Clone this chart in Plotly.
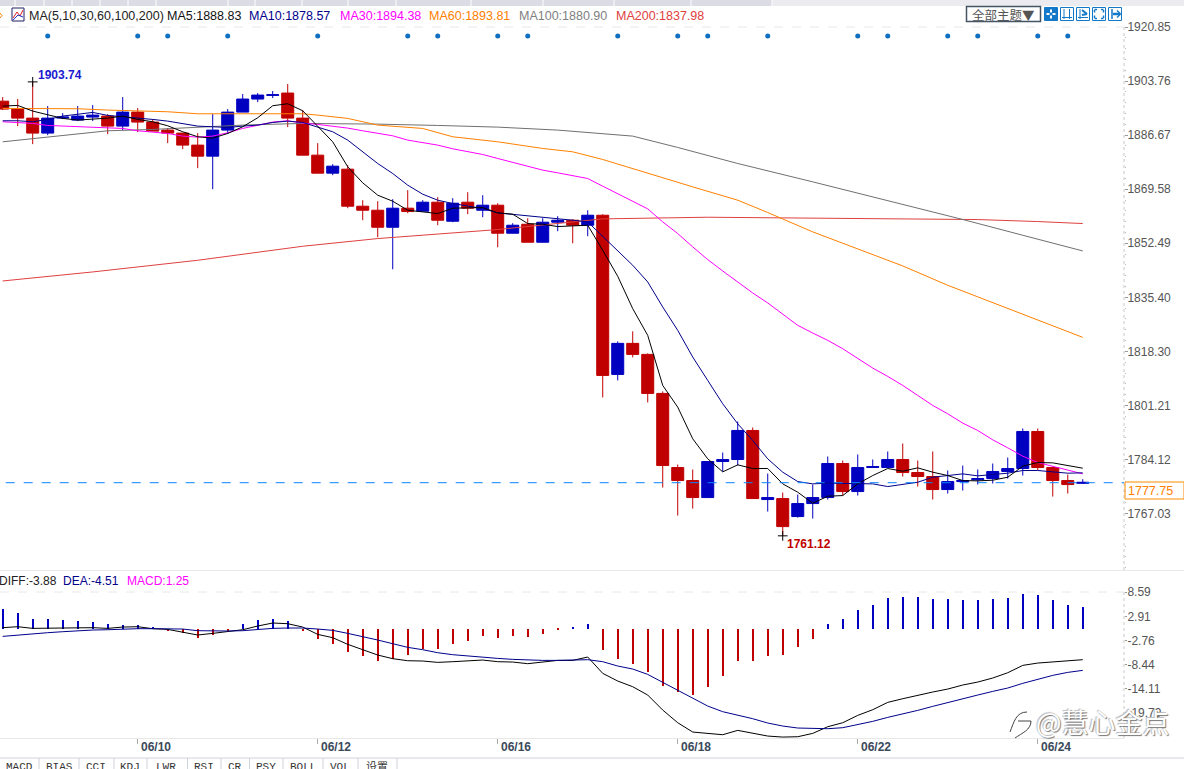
import plotly.graph_objects as go

W = 1184
H = 769

# candle values, oldest first
opens = [1897.4, 1894.9, 1892.05, 1887.31, 1892.05, 1891.42, 1892.37, 1892.69, 1889.52, 1893.95,
         1890.79, 1888.26, 1887.31, 1883.51, 1880.03, 1888.26, 1893.95, 1898.07, 1899.23, 1899.97,
         1892.05, 1880.34, 1874.65, 1875.91, 1864.2, 1862.93, 1857.55, 1863.57, 1862.62, 1865.47,
         1859.45, 1865.47, 1862.93, 1864.52, 1855.66, 1858.5, 1852.81, 1859.14, 1859.77, 1858.19,
         1861.35, 1811.03, 1820.84, 1817.36, 1805.02, 1781.59, 1777.48, 1772.1, 1783.49, 1784.12,
         1793.31, 1771.47, 1771.78, 1766.09, 1770.2, 1772.1, 1782.86, 1774.0, 1781.59, 1781.59,
         1784.12, 1780.01, 1778.75, 1774.63, 1777.16, 1777.69, 1778.11, 1780.33, 1781.28, 1792.99,
         1781.59, 1777.48, 1776.6]
highs = [1898.7, 1898.07, 1903.5, 1895.85, 1893.63, 1895.85, 1896.17, 1893.32, 1898.7, 1895.22,
         1891.74, 1888.89, 1887.31, 1887.31, 1893.32, 1894.9, 1899.65, 1899.97, 1900.6, 1902.81,
         1894.58, 1884.14, 1877.49, 1877.18, 1866.1, 1865.78, 1866.42, 1869.27, 1866.1, 1867.05,
         1866.73, 1868.63, 1867.68, 1865.15, 1858.82, 1860.4, 1860.4, 1861.04, 1860.09, 1862.93,
         1861.67, 1821.47, 1824.64, 1817.68, 1805.65, 1782.54, 1780.96, 1783.49, 1786.34, 1796.15,
         1794.26, 1779.7, 1773.68, 1773.05, 1776.21, 1785.08, 1783.81, 1785.71, 1784.12, 1786.66,
         1789.19, 1783.81, 1786.66, 1780.65, 1782.22, 1780.96, 1782.86, 1784.76, 1793.94, 1793.94,
         1781.91, 1779.38, 1777.9]
lows = [1894.6, 1889.52, 1883.82, 1886.67, 1891.74, 1891.1, 1891.1, 1886.99, 1888.26, 1887.62,
        1887.94, 1884.14, 1882.24, 1876.23, 1869.58, 1886.99, 1893.95, 1897.12, 1898.38, 1889.2,
        1880.34, 1874.65, 1874.01, 1863.57, 1859.77, 1854.39, 1844.26, 1861.99, 1862.62, 1858.19,
        1859.14, 1861.67, 1860.72, 1851.22, 1855.66, 1852.81, 1852.81, 1856.29, 1852.49, 1854.71,
        1803.75, 1809.13, 1816.41, 1802.17, 1775.26, 1766.4, 1768.62, 1772.1, 1780.33, 1782.22,
        1771.78, 1767.67, 1760.0, 1765.77, 1765.45, 1771.47, 1772.73, 1772.73, 1781.59, 1781.59,
        1778.75, 1775.58, 1771.47, 1773.37, 1774.32, 1776.21, 1776.53, 1778.11, 1779.06, 1780.65,
        1772.42, 1773.37, 1776.4]
closes = [1894.9, 1892.05, 1887.31, 1892.05, 1892.37, 1892.69, 1893.0, 1889.52, 1893.95, 1890.79,
          1887.94, 1887.31, 1883.51, 1880.03, 1888.26, 1893.95, 1898.07, 1899.33, 1899.44, 1892.05,
          1880.34, 1874.65, 1876.86, 1864.2, 1862.93, 1857.55, 1863.57, 1862.51, 1865.47, 1859.77,
          1865.15, 1863.57, 1864.52, 1855.66, 1858.19, 1852.81, 1859.14, 1859.77, 1858.19, 1861.35,
          1810.71, 1820.84, 1817.36, 1805.02, 1782.22, 1777.48, 1772.1, 1783.49, 1784.12, 1793.31,
          1771.78, 1772.1, 1762.92, 1770.2, 1772.1, 1782.86, 1774.0, 1781.59, 1781.91, 1784.12,
          1780.01, 1778.75, 1774.63, 1777.16, 1777.48, 1778.11, 1780.33, 1781.28, 1792.99, 1781.59,
          1777.48, 1776.21, 1776.9]

ma5 = [1895.85, 1896.06, 1894.27, 1893.0, 1891.95, 1891.42, 1891.74, 1892.05, 1892.69, 1891.63,
       1890.89, 1889.63, 1887.73, 1886.15, 1885.72, 1887.2, 1889.31, 1892.16, 1895.96, 1896.59,
       1894.37, 1889.31, 1884.56, 1876.65, 1871.59, 1867.68, 1865.78, 1862.93, 1862.51, 1861.88,
       1863.57, 1863.57, 1863.78, 1862.09, 1861.67, 1858.71, 1858.5, 1857.77, 1857.87, 1858.19,
       1850.28, 1842.05, 1831.81, 1823.37, 1807.55, 1800.69, 1790.67, 1784.34, 1780.22, 1782.44,
       1781.28, 1781.28, 1776.43, 1773.79, 1770.31, 1772.52, 1772.73, 1776.43, 1779.06, 1781.28,
       1780.43, 1781.49, 1780.12, 1779.06, 1777.48, 1777.37, 1777.59, 1778.53, 1782.02, 1783.18,
       1783.07, 1782.22, 1781.38]
ma10 = [1891.21, 1891.21, 1890.89, 1891.63, 1892.69, 1893.32, 1893.85, 1892.9, 1892.48, 1892.26,
        1891.63, 1891.1, 1890.37, 1889.52, 1889.31, 1889.1, 1889.52, 1889.84, 1890.68, 1891.1,
        1890.68, 1889.1, 1887.73, 1885.09, 1881.4, 1877.7, 1874.54, 1870.85, 1868.0, 1866.1,
        1865.05, 1864.2, 1863.46, 1862.09, 1861.67, 1861.04, 1860.61, 1860.3, 1859.77, 1859.24,
        1854.71, 1850.28, 1845.53, 1840.25, 1832.34, 1824.96, 1816.52, 1809.13, 1801.75, 1795.42,
        1790.14, 1784.34, 1780.12, 1777.16, 1776.43, 1776.64, 1776.64, 1776.64, 1776.43, 1775.58,
        1776.21, 1776.95, 1778.53, 1778.96, 1779.59, 1778.96, 1779.48, 1779.8, 1780.65, 1780.65,
        1780.22, 1779.8, 1779.91]
ma30 = [1890.89, 1890.68, 1890.37, 1889.73, 1889.52, 1889.52, 1889.31, 1889.0, 1888.78, 1888.04,
        1887.62, 1887.2, 1886.36, 1886.04, 1886.36, 1887.41, 1888.78, 1889.73, 1890.79, 1891.21,
        1890.47, 1890.05, 1889.52, 1888.89, 1888.04, 1887.31, 1886.46, 1885.09, 1884.25, 1883.51,
        1882.35, 1881.4, 1880.55, 1879.29, 1878.02, 1876.86, 1875.6, 1874.75, 1873.91, 1872.96,
        1870.53, 1868.21, 1865.68, 1863.36, 1859.24, 1855.55, 1851.33, 1847.32, 1843.73, 1840.25,
        1836.77, 1833.61, 1830.02, 1826.54, 1824.11, 1821.79, 1819.15, 1815.99, 1813.03, 1810.4,
        1807.55, 1804.38, 1801.22, 1798.58, 1795.63, 1793.31, 1790.35, 1787.82, 1785.18, 1783.18,
        1781.91, 1780.75, 1779.59]

# the slow averages are smooth, so these are read at fewer candles
ma60_idx = [0, 5, 7, 9, 11, 13, 20, 21, 23, 25, 28, 30, 33, 36, 38, 40, 43, 46, 49, 51, 54, 57, 60, 63, 66, 69, 72]
ma60 = [1895.11, 1895.01, 1894.59, 1894.27, 1894.06, 1893.42, 1893.42, 1893.0, 1891.95, 1889.84,
        1888.78, 1886.15, 1884.56, 1882.45, 1881.4, 1878.97, 1874.54, 1870.32, 1866.1, 1862.2,
        1856.08, 1850.8, 1845.32, 1839.2, 1833.71, 1828.12, 1822.74]
ma100_idx = [0, 2, 5, 7, 10, 13, 16, 20, 25, 29, 33, 37, 40, 42, 45, 49, 54, 60, 64, 68, 72]
ma100 = [1884.56, 1885.62, 1887.2, 1888.04, 1888.47, 1889.1, 1889.84, 1890.37, 1890.15, 1889.73,
         1889.2, 1888.26, 1887.09, 1886.36, 1882.77, 1877.7, 1871.9, 1864.83, 1860.0, 1855.02, 1850.06]
ma200_idx = [0, 6, 13, 20, 25, 33, 40, 47, 52, 57, 65, 69, 72]
ma200 = [1840.57, 1843.42, 1847.11, 1851.54, 1853.97, 1856.82, 1860.19, 1860.72, 1860.51, 1860.3,
         1859.98, 1859.35, 1858.72]

macd_hist = [4.6, 3.8, 2.4, 2.2, 2.0, 1.7, 1.5, 1.0, 0.9, 0.8, 0.4, -0.6, -1.1, -2.1, -1.6, -0.6, 1.0, 2.0, 2.4, 1.7,
             -0.6, -2.5, -3.5, -5.5, -6.4, -7.7, -7.2, -6.2, -4.9, -4.9, -3.7, -2.8, -1.8, -2.3, -1.8, -2.0, -1.3, -0.3, 0.3, 1.0,
             -5.1, -7.2, -8.4, -10.1, -13.4, -15.0, -15.7, -13.8, -11.2, -7.7, -7.5, -6.5, -6.3, -4.4, -2.5, 1.0, 2.2, 4.3, 5.7, 7.2,
             7.4, 7.4, 6.9, 6.9, 6.7, 6.7, 6.9, 7.2, 8.3, 7.9, 6.7, 5.7, 5.0]
diff = [0.24, 0.47, 0.08, 0.16, 0.24, 0.24, 0.24, 0.08, 0.39, 0.47, 0.0, -0.16, -0.79, -1.49, -1.1, -0.71, -0.24, 0.63, 1.34, 1.18,
        0.39, -1.34, -2.12, -3.69, -4.95, -6.21, -7.07, -7.55, -7.62, -7.94, -7.78, -7.55, -7.39, -7.78, -7.86, -8.25, -7.78, -7.47, -7.47, -6.68,
        -10.53, -12.34, -13.68, -15.64, -19.18, -22.17, -24.37, -24.76, -25.0, -23.97, -24.6, -25.31, -25.55, -25.47, -24.68, -23.11, -22.17, -20.44, -19.1, -17.37,
        -16.51, -15.64, -14.93, -14.23, -13.28, -12.58, -11.63, -10.38, -8.65, -8.1, -7.78, -7.55, -7.31]
dea = [-1.81, -1.49, -1.18, -0.94, -0.71, -0.47, -0.31, -0.24, -0.08, 0.0, 0.0, 0.0, -0.08, -0.47, -0.55, -0.55, -0.47, -0.16, 0.08, 0.16,
       0.16, -0.08, -0.39, -1.1, -1.81, -2.67, -3.54, -4.4, -4.95, -5.66, -6.13, -6.45, -6.76, -7.0, -7.23, -7.39, -7.47, -7.47, -7.47, -7.31,
       -7.78, -8.8, -9.51, -10.77, -12.65, -14.54, -16.51, -18.24, -19.57, -20.36, -21.22, -22.24, -22.95, -23.42, -23.58, -23.58, -23.34, -22.64, -21.85, -20.91,
       -20.12, -19.26, -18.31, -17.37, -16.51, -15.64, -14.78, -13.99, -12.89, -11.87, -11.0, -10.3, -9.83]

price_ticks = [1920.85, 1903.76, 1886.67, 1869.58, 1852.49, 1835.40, 1818.30, 1801.21, 1784.12, 1767.03]
macd_ticks = [8.59, 2.91, -2.76, -8.44, -14.11, -19.79]
date_idx = [9, 21, 33, 45, 57, 69]
date_labels = ["06/10", "06/12", "06/16", "06/18", "06/22", "06/24"]
signal_idx = [3, 9, 11, 15, 21, 27, 29, 33, 35, 41, 45, 47, 51, 57, 59, 63, 65, 69, 71]
signal_level = 1918.0
high_idx, high_val, high_text = 2, 1903.5, "1903.74"
low_idx, low_val, low_text = 52, 1760.0, "1761.12"
last_text = "1777.75"
last_line = 1776.8  # the dashed line sits a touch under the printed value in the picture

ma_legend = [("MA(5,10,30,60,100,200)", 27.5, "#222222"), ("MA5:1888.83", 165.7, "#111111"),
             ("MA10:1878.57", 248.4, "#00008b"), ("MA30:1894.38", 338.7, "#ff00ff"),
             ("MA60:1893.81", 428, "#ff8000"), ("MA100:1880.90", 518, "#808080"),
             ("MA200:1837.98", 615.4, "#e04040")]
macd_legend = [("DIFF:-3.88", -2, "#222222"), ("DEA:-4.51", 61.6, "#00008b"), ("MACD:1.25", 125.5, "#ff00ff")]
tabs = [("MACD", 19.5), ("BIAS", 59), ("CCI", 96), ("KDJ", 130), ("LWR", 166), ("RSI", 204),
        ("CR", 235), ("PSY", 266), ("BOLL", 303), ("VOL", 340), ("设置", 377)]
tab_edges = [39, 79, 114, 147, 187.5, 221, 249.5, 283, 323, 358, 397]
top_tab_edges = [15, 44, 72, 100, 128, 156, 228, 255, 302, 348, 396, 471, 543, 614, 691, 772]

RED = "#c00000"
BLUE = "#0000c0"
idx = list(range(len(opens)))


def fx(x):
    return x / W


def fy(y):
    return 1 - y / H


def rect(x0, y0, x1, y1, line=None, fill=None, width=1):
    return dict(type="rect", xref="paper", yref="paper", x0=fx(x0), x1=fx(x1), y0=fy(y0), y1=fy(y1),
                line=dict(color=line or "rgba(0,0,0,0)", width=width if line else 0), fillcolor=fill or "rgba(0,0,0,0)")


def seg(x0, y0, x1, y1, color, width=1, dash="solid"):
    return dict(type="line", xref="paper", yref="paper", x0=fx(x0), x1=fx(x1), y0=fy(y0), y1=fy(y1),
                line=dict(color=color, width=width, dash=dash))


def label(text, x, y, color, size=12, anchor="left", family="Liberation Sans", bold=False):
    return dict(text=text, xref="paper", yref="paper", x=fx(x), y=fy(y), xanchor=anchor, yanchor="middle",
                showarrow=False, borderpad=0, font=dict(color=color, size=size, family=family,
                                                         weight="bold" if bold else "normal"))


fig = go.Figure()

fig.add_trace(go.Candlestick(x=idx, open=opens, high=highs, low=lows, close=closes, whiskerwidth=0,
                             increasing=dict(line=dict(color=BLUE, width=1), fillcolor=BLUE),
                             decreasing=dict(line=dict(color=RED, width=1), fillcolor=RED),
                             xaxis="x", yaxis="y", hoverinfo="skip"))

for xs, ys, color in [(ma200_idx, ma200, "#e04040"), (ma100_idx, ma100, "#707070"), (ma60_idx, ma60, "#ff8000"),
                      (idx, ma30, "#ff00ff"), (idx, ma10, "#00008b"), (idx, ma5, "#000000")]:
    fig.add_trace(go.Scatter(x=xs, y=ys, mode="lines", line=dict(color=color, width=1), xaxis="x", yaxis="y"))

fig.add_trace(go.Scatter(x=signal_idx, y=[signal_level] * len(signal_idx), mode="markers",
                         marker=dict(color="#0f6fc0", size=5), xaxis="x", yaxis="y"))
fig.add_trace(go.Scatter(x=[high_idx, low_idx], y=[high_val, low_val], mode="markers",
                         marker=dict(symbol="cross-thin", size=7, line=dict(color="#000000", width=1)),
                         xaxis="x", yaxis="y"))

# MACD pane
fig.add_trace(go.Bar(x=idx, y=macd_hist, width=0.07, marker=dict(color=[BLUE if v > 0 else RED for v in macd_hist], line=dict(width=0)),
                     xaxis="x2", yaxis="y2"))
fig.add_trace(go.Scatter(x=idx, y=diff, mode="lines", line=dict(color="#000000", width=1), xaxis="x2", yaxis="y2"))
fig.add_trace(go.Scatter(x=idx, y=dea, mode="lines", line=dict(color="#00008b", width=1), xaxis="x2", yaxis="y2"))

# page furniture
shapes = [rect(0, 0, 772, 6, fill="#dcdce4"), rect(772, 0, W, 6, fill="#ebebf0")]
shapes += [seg(x, 0, x, 6, "#ffffff") for x in top_tab_edges]
shapes += [seg(0, 27, 1124, 27, "#e8e8e8", dash="dash"), seg(0, 592, 1124, 592, "#e8e8e8", dash="dash"),
           seg(0, 570.5, W, 570.5, "#e8e8e8"), seg(0, 758, W, 758, "#cfd3da"),
           seg(1124, 27, 1124, 570, "#c8c8c8", dash="dot"), seg(1124, 592, 1124, 738, "#c8c8c8", dash="dot")]
shapes += [seg(x, 758, x, H, "#cfd3da") for x in tab_edges]
shapes.append(dict(type="line", xref="x", yref="y", x0=-1, x1=74.75, y0=last_line, y1=last_line,
                   line=dict(color="#0a84ff", width=1, dash="dash")))
shapes.append(rect(1125, 482, 1184, 499, line="#ff8c00"))

# MA icon
shapes += [rect(12, 8, 24, 21, line="#20206a"), seg(13, 18, 17, 12, "#e02020"), seg(17, 12, 20, 16, "#e02020"),
           seg(20, 16, 23, 10, "#e02020"), seg(13, 20, 18, 15, "#2030c0"), seg(18, 15, 23, 17, "#2030c0"),
           seg(0, 13, 2, 15.5, "#ff8000"), seg(0, 18, 2, 15.5, "#ff8000")]

# buttons top right
shapes.append(rect(966.5, 6.5, 1040.5, 21.5, line="#445566", width=1.5))
shapes.append(rect(1044.5, 7.5, 1057.5, 20.5, fill="#1478c8", line="#1478c8"))
shapes += [seg(1051, 9.5, 1051, 12.5, "#ffffff", 2), seg(1051, 15.5, 1051, 18.5, "#ffffff", 2),
           seg(1046.5, 14, 1049.5, 14, "#ffffff", 2), seg(1052.5, 14, 1055.5, 14, "#ffffff", 2)]
for bx in [1060.5, 1076.5, 1092.5, 1108.5]:
    shapes.append(rect(bx, 7.5, bx + 13, 20.5, line="#1478c8"))
shapes += [seg(1064, 9, 1064, 19, "#1478c8"), seg(1069.5, 9, 1069.5, 19, "#1478c8"), seg(1062, 17.5, 1072, 17.5, "#1478c8"),
           seg(1080, 9, 1080, 19, "#1478c8"), seg(1078, 17.5, 1088, 17.5, "#1478c8"), seg(1082, 10, 1087, 14, "#1478c8", 2),
           seg(1082, 15, 1087, 14, "#1478c8", 2),
           seg(1094.5, 10, 1094.5, 12.5, "#1478c8", 1.5), seg(1094.5, 9.5, 1097, 9.5, "#1478c8", 1.5),
           seg(1103.5, 10, 1103.5, 12.5, "#1478c8", 1.5), seg(1101, 9.5, 1103.5, 9.5, "#1478c8", 1.5),
           seg(1094.5, 15.5, 1094.5, 18, "#1478c8", 1.5), seg(1094.5, 18.5, 1097, 18.5, "#1478c8", 1.5),
           seg(1103.5, 15.5, 1103.5, 18, "#1478c8", 1.5), seg(1101, 18.5, 1103.5, 18.5, "#1478c8", 1.5),
           seg(1112, 9, 1112, 19, "#1478c8", 1.5), seg(1113, 14, 1120, 14, "#1478c8", 2.5), seg(1117, 10.5, 1120.5, 14, "#1478c8", 1.5),
           seg(1117, 17.5, 1120.5, 14, "#1478c8", 1.5)]

# watermark logo
shapes.append(dict(type="path", xref="paper", yref="paper", line=dict(color="#444444", width=1),
                   path=f"M {fx(1010)} {fy(732)} C {fx(1014)} {fy(722)} {fx(1016)} {fy(712)} {fx(1027)} {fy(712)}"))
shapes.append(dict(type="path", xref="paper", yref="paper", line=dict(color="#444444", width=1),
                   path=f"M {fx(1018)} {fy(721)} L {fx(1031)} {fy(721)} C {fx(1031)} {fy(730)} {fx(1022)} {fy(733)} {fx(1015)} {fy(738)}"))

annotations = [label(t, x, 15.5, c, 12.5) for t, x, c in ma_legend]
annotations += [label(t, x, 581, c, 12) for t, x, c in macd_legend]
annotations += [label(t, x, 767, "#333333", 11, anchor="center", family="Liberation Mono, Noto Sans CJK SC") for t, x in tabs]
annotations += [dict(text=t, xref="x2", yref="paper", x=i, y=fy(747), xanchor="left", yanchor="middle", xshift=1,
                     showarrow=False, font=dict(size=12, color="#3a4a5a", family="Liberation Sans", weight="bold"))
                for t, i in zip(date_labels, date_idx)]
annotations += [dict(text=high_text, xref="x", yref="y", x=high_idx, y=high_val, xanchor="left", yanchor="middle", xshift=3, yshift=7,
                     showarrow=False, font=dict(size=12, color="#1a1ad0", family="Liberation Sans", weight="bold")),
                dict(text=low_text, xref="x", yref="y", x=low_idx, y=low_val, xanchor="left", yanchor="middle", xshift=2, yshift=-8,
                     showarrow=False, font=dict(size=12, color=RED, family="Liberation Sans", weight="bold")),
                label(last_text, 1127, 491, "#ff8000", 12.5),
                label("全部主题▼", 1003, 14.5, "#555555", 12.5, anchor="center", family="Noto Sans CJK SC"),
                dict(text="@慧心金点", xref="paper", yref="paper", x=fx(1172), y=fy(721), xanchor="right", yanchor="middle",
                     showarrow=False, font=dict(size=27, color="#ffffff", family="Noto Sans CJK SC",
                                                shadow="1px 1px 1px #777777, -1px -1px 1px #bbbbbb"))]

x_end = 1124 / W
x_range = [-0.18, 74.75]
fig.update_layout(
    width=W, height=H, margin=dict(t=0, l=0, r=0, b=0, autoexpand=False), paper_bgcolor="white", plot_bgcolor="white",
    showlegend=False, hovermode=False, bargap=0, boxgap=0.2, boxgroupgap=0, font=dict(family="Liberation Sans"),
    shapes=shapes, annotations=annotations,
    xaxis=dict(domain=[0, x_end], range=x_range, visible=False, rangeslider=dict(visible=False), anchor="y"),
    yaxis=dict(domain=[fy(570), fy(27)], range=[1749.2, 1920.85], side="right", anchor="x", showgrid=False, zeroline=False,
               tickmode="array", tickvals=price_ticks, ticktext=[f"{v:.2f}" for v in price_ticks],
               ticks="outside", ticklen=3, tickcolor="#999999", tickfont=dict(size=12, color="#555555"), ticklabelstandoff=-3,
               minor=dict(tick0=1767.03, dtick=3.418, ticks="outside", ticklen=1, tickcolor="#bbbbbb")),
    xaxis2=dict(domain=[0, x_end], range=x_range, anchor="y2", showgrid=False, zeroline=False, showline=True, linecolor="#e8e8e8",
                tickmode="array", tickvals=date_idx, showticklabels=False, ticks="outside", ticklen=5, tickcolor="#aaaaaa"),
    yaxis2=dict(domain=[fy(738), fy(570)], range=[-25.77, 13.84], side="right", anchor="x2", showgrid=False, zeroline=False,
                tickmode="array", tickvals=macd_ticks, ticktext=[f"{v:.2f}" for v in macd_ticks],
                ticks="outside", ticklen=2, tickcolor="#999999", tickfont=dict(size=12, color="#555555"), ticklabelstandoff=-2),
)

fig.write_html("out.html", config=dict(displayModeBar=False),
               post_script="document.body.style.margin='0';document.body.style.overflow='hidden';")
